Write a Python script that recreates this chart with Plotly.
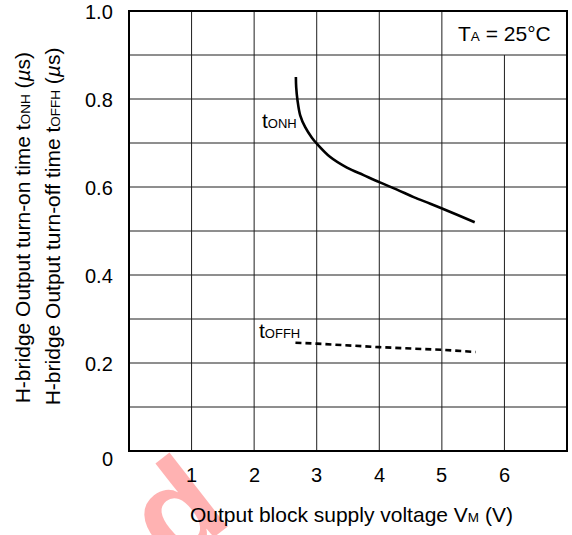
import plotly.graph_objects as go

# Supply voltage VM (V) and switching times (us)
vm_on = [2.667, 2.672, 2.693, 2.736, 2.816, 2.923, 2.992, 3.216, 3.483, 3.749,
         4.0, 4.283, 4.549, 4.816, 5.003, 5.243, 5.525]
t_on = [0.850, 0.827, 0.797, 0.763, 0.736, 0.712, 0.700, 0.668, 0.644, 0.627,
        0.611, 0.594, 0.577, 0.562, 0.551, 0.537, 0.520]

vm_off = [2.66, 3.0, 4.0, 5.0, 5.54]
t_off = [0.246, 0.244, 0.236, 0.230, 0.225]

x_ticks = [1, 2, 3, 4, 5, 6]
y_ticks = [0, 0.2, 0.4, 0.6, 0.8, 1.0]
y_tick_text = ["0", "0.2", "0.4", "0.6", "0.8", "1.0"]

X_MAX = 7
Y_MAX = 1.0

FONT = "Liberation Sans, Arial, Helvetica, sans-serif"
SMALL = "<span style='font-size:13.5px'>{}</span>"

fig = go.Figure()

fig.add_trace(go.Scatter(
    x=vm_on, y=t_on, mode="lines", line=dict(color="black", width=2.6, shape="spline"),
    showlegend=False, hoverinfo="skip"))
fig.add_trace(go.Scatter(
    x=vm_off, y=t_off, mode="lines", line=dict(color="black", width=2.6, dash="6px,4px"),
    showlegend=False, hoverinfo="skip"))

shapes = []
grid_line = dict(color="#1e1e1e", width=1)
# vertical grid; the x=6 line stops below the condition box in the top row
for xv in x_ticks:
    top = 0.9 if xv == 6 else Y_MAX
    shapes.append(dict(type="line", xref="x", yref="y", x0=xv, x1=xv, y0=0, y1=top,
                       line=grid_line, layer="below"))
for i in range(1, 10):
    yv = i / 10
    shapes.append(dict(type="line", xref="x", yref="y", x0=0, x1=X_MAX, y0=yv, y1=yv,
                       line=grid_line, layer="below"))
shapes.append(dict(type="rect", xref="paper", yref="paper", x0=0, x1=1, y0=0, y1=1,
                   line=dict(color="black", width=2)))

annotations = []
# watermark glyph behind the axis labels
annotations.append(dict(
    text="<b>d</b>", xref="paper", yref="paper", x=0.107, y=-0.135,
    xanchor="center", yanchor="middle", textangle=-38, showarrow=False,
    font=dict(family=FONT, size=130, color="rgba(255,0,0,0.3)")))

for xv in x_ticks:
    annotations.append(dict(text=str(xv), xref="x", yref="paper", x=xv, y=-0.0545,
                            xanchor="center", yanchor="middle", showarrow=False,
                            font=dict(family=FONT, size=20, color="black")))
for yv, lab in zip(y_ticks, y_tick_text):
    annotations.append(dict(text=lab, xref="paper", yref="y", x=-0.032, y=yv,
                            xanchor="right", yanchor="middle", showarrow=False,
                            yshift=-8 if yv == 0 else -1,
                            font=dict(family=FONT, size=20, color="black")))

annotations.append(dict(
    text="Output block supply voltage V" + SMALL.format("M") + " (V)",
    xref="paper", yref="paper", x=(351.7 - 129) / 438, y=(450.7 - 514) / 440,
    xanchor="center", yanchor="middle", showarrow=False,
    font=dict(family=FONT, size=21, color="black")))

annotations.append(dict(
    text="H-bridge Output turn-on time t" + SMALL.format("ONH") + " (<i>µ</i>s)",
    xref="paper", yref="paper", x=(22 - 129) / 438, y=(450.7 - 228) / 440,
    xanchor="center", yanchor="middle", textangle=-90, showarrow=False,
    font=dict(family=FONT, size=21, color="black")))
annotations.append(dict(
    text="H-bridge Output turn-off time t" + SMALL.format("OFFH") + " (<i>µ</i>s)",
    xref="paper", yref="paper", x=(52 - 129) / 438, y=(450.7 - 226) / 440,
    xanchor="center", yanchor="middle", textangle=-90, showarrow=False,
    font=dict(family=FONT, size=21, color="black")))

annotations.append(dict(
    text="T" + SMALL.format("A") + " = 25°C", xref="x", yref="y", x=6.0, y=0.95,
    xanchor="center", yanchor="middle", showarrow=False,
    font=dict(family=FONT, size=21, color="black")))

annotations.append(dict(
    text="t" + "<span style='font-size:13px'>ONH</span>", xref="x", yref="y",
    x=2.1, y=0.752, xanchor="left", yanchor="middle", showarrow=False,
    font=dict(family=FONT, size=21, color="black")))
annotations.append(dict(
    text="t" + "<span style='font-size:13px'>OFFH</span>", xref="x", yref="y",
    x=2.05, y=0.273, xanchor="left", yanchor="middle", showarrow=False,
    font=dict(family=FONT, size=21, color="black")))

fig.update_layout(
    width=572, height=535,
    margin=dict(l=129, r=5, t=11, b=84),
    paper_bgcolor="white", plot_bgcolor="white",
    xaxis=dict(range=[0, X_MAX], showgrid=False, zeroline=False, showticklabels=False,
               ticks="", showline=False, fixedrange=True),
    yaxis=dict(range=[0, Y_MAX], showgrid=False, zeroline=False, showticklabels=False,
               ticks="", showline=False, fixedrange=True),
    shapes=shapes, annotations=annotations,
    font=dict(family=FONT, color="black"),
)

fig.write_html("out.html", config={"displayModeBar": False})
